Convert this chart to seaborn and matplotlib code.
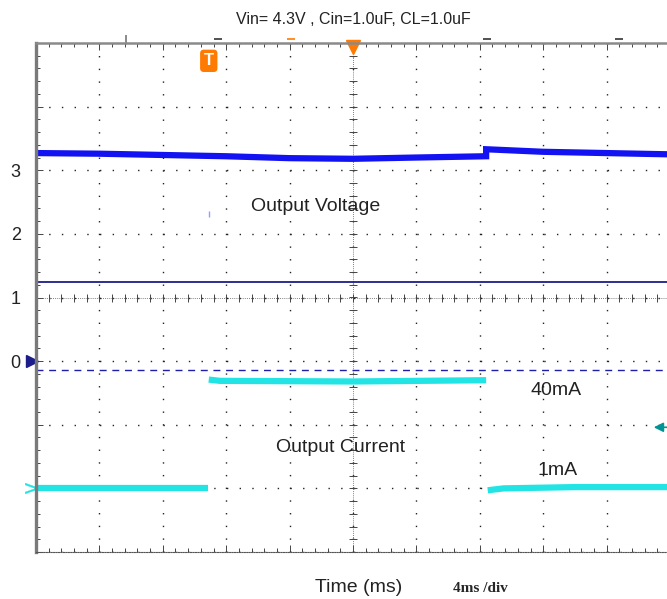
import numpy as np
import pandas as pd
import matplotlib
matplotlib.use("Agg")
import matplotlib.pyplot as plt
from matplotlib.ticker import MultipleLocator
import seaborn as sns

# time in ms (4 ms/div), levels in screen divisions
volt_t = [0, 4, 8, 12, 16, 20, 24, 28.4, 28.4, 32, 36, 40]
volt_v = [3.27, 3.26, 3.24, 3.22, 3.19, 3.18, 3.20, 3.22, 3.33, 3.29, 3.27, 3.25]

cur_t = [0, 10.85, 10.9, 11.6, 20, 28.4, 28.5, 29.5, 34, 40]
cur_v = [-1.99, -1.99, -0.29, -0.31, -0.32, -0.30, -2.03, -2.00, -1.98, -1.98]
cur_seg = [0, 0, 1, 1, 1, 1, 2, 2, 2, 2]

ch1_ref = 1.24      # solid navy reference line
ch1_gnd = -0.14     # dashed navy line
ytick_vals = [0, 1, 2, 3]

BLUE = "#1212f2"
CYAN = "#22e4e4"
NAVY = "#1c1c8a"
ORANGE = "#ff7a00"
TEAL = "#009494"
TXT = "#222222"

sns.set_theme(style="white")
plt.rcParams["font.family"] = ["Liberation Sans", "DejaVu Sans"]

volt = pd.DataFrame({"t": volt_t, "v": volt_v})
cur = pd.DataFrame({"t": cur_t, "v": cur_v, "seg": cur_seg})

fig = plt.figure(figsize=(6.67, 5.99), dpi=100)
ax = fig.add_axes([36 / 667, 47 / 599, 634 / 667, 509 / 599])

# graticule
ax.set_xlim(0, 40)
ax.set_ylim(-3, 5)
ax.set_xticks(np.arange(0, 41, 4))
ax.set_yticks(range(-3, 6))
ax.set_yticklabels([str(v) if v in ytick_vals else "" for v in range(-3, 6)])
ax.xaxis.set_minor_locator(MultipleLocator(0.8))
ax.yaxis.set_minor_locator(MultipleLocator(0.2))
ax.grid(True, which="major", color="#222222", lw=1.0, linestyle=(0, (1, 8.14)))
ax.tick_params(which="both", direction="in", top=True, bottom=True, left=True,
               right=False, color="#444444", width=0.7)
ax.tick_params(which="major", length=5)
ax.tick_params(which="minor", length=3)
ax.tick_params(axis="x", labelbottom=False)
ax.tick_params(axis="y", labelsize=13, pad=11, labelcolor=TXT)
ax.spines["right"].set_visible(False)
ax.spines["left"].set_color("#7a7a7a")
ax.spines["left"].set_linewidth(2.4)
ax.spines["top"].set_color("#8a8a8a")
ax.spines["top"].set_linewidth(1.8)
ax.spines["bottom"].set_color("#555555")
ax.spines["bottom"].set_linewidth(0.8)
ax.spines["bottom"].set_linestyle((0, (1, 1.2)))

# centre crosshair with fifth-division ticks
ax.axhline(1, color="#555555", lw=0.6, ls=(0, (1, 1.5)))
ax.axvline(20, color="#555555", lw=0.6, ls=(0, (1, 1.5)))
ax.plot(np.arange(0, 40.01, 0.8), np.full(51, 1.0), ls="none", marker="|",
        ms=6, mew=0.7, color="#444444")
ax.plot(np.full(41, 20.0), np.arange(-3, 5.01, 0.2), ls="none", marker="_",
        ms=6, mew=0.7, color="#444444")

# reference lines
ax.axhline(ch1_ref, color=NAVY, lw=1.3)
ax.axhline(ch1_gnd, color="#1e1ea8", lw=1.0, ls=(0, (5, 4.1)))

# traces
sns.lineplot(data=volt, x="t", y="v", ax=ax, color=BLUE, lw=4.5,
             estimator=None, sort=False, legend=False,
             solid_capstyle="butt", solid_joinstyle="miter")
sns.lineplot(data=cur, x="t", y="v", units="seg", ax=ax, color=CYAN, lw=4.5,
             estimator=None, sort=False, legend=False,
             solid_capstyle="butt", solid_joinstyle="miter")
ax.set_xlabel("")
ax.set_ylabel("")

# scope markers
ax.plot([-0.25], [0], marker=">", ms=8, color=NAVY, clip_on=False)
ax.plot([-0.3], [-2], marker=r"$>$", ms=9, color=CYAN, mew=0.3, clip_on=False)
ax.annotate("", xy=(38.8, -1.04), xytext=(40.6, -1.04), annotation_clip=False,
            arrowprops=dict(arrowstyle="-|>", color=TEAL, lw=1.2, mutation_scale=14))
ax.plot([20], [4.93], marker="v", ms=10, color=ORANGE, clip_on=False)
ax.text(10.9, 4.72, "T", color="white", fontsize=12, weight="bold",
        ha="center", va="center",
        bbox=dict(boxstyle="round,pad=0.22", fc=ORANGE, ec="none"))
ax.plot([10.9], [2.32], marker="|", ms=5, color="#9a9aff")
for xm, col, mk in [(5.68, "#777777", "|"), (11.48, "#333333", "_"),
                    (16.09, ORANGE, "_"), (28.45, "#333333", "_"),
                    (36.78, "#333333", "_")]:
    ax.plot([xm], [5.07], marker=mk, ms=6, mew=1.2, color=col, clip_on=False)

# labels
ax.text(17.67, 2.43, "Output Voltage", fontsize=14, ha="center", va="center", color=TXT)
ax.text(19.24, -1.35, "Output Current", fontsize=14, ha="center", va="center", color=TXT)
ax.text(32.8, -0.46, "40mA", fontsize=14, ha="center", va="center", color=TXT)
ax.text(32.9, -1.72, "1mA", fontsize=14, ha="center", va="center", color=TXT)

fig.text(353 / 667, 1 - 19 / 599, "Vin= 4.3V , Cin=1.0uF, CL=1.0uF",
         fontsize=11.5, ha="center", va="center", color=TXT)
fig.text(359 / 667, 1 - 587 / 599, "Time (ms)", fontsize=14,
         ha="center", va="center", color=TXT)
fig.text(480 / 667, 1 - 588 / 599, "4ms /div", fontsize=11, weight="bold",
         family=["Liberation Serif", "DejaVu Serif"], ha="center", va="center")

fig.savefig("out.png", dpi=100)
plt.close(fig)
